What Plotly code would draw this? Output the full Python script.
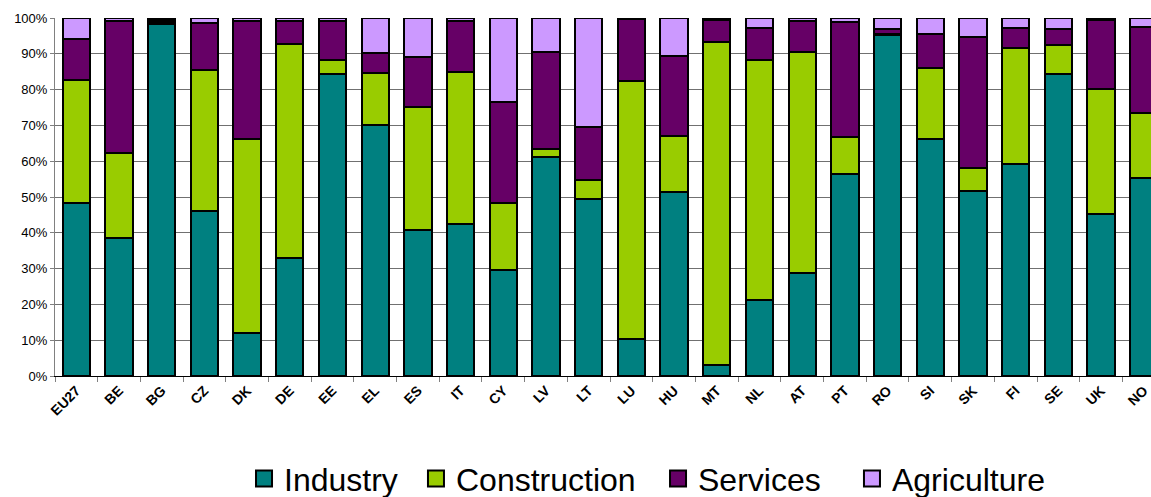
import plotly.graph_objects as go

categories = ["EU27", "BE", "BG", "CZ", "DK", "DE", "EE", "EL", "ES", "IT", "CY", "LV", "LT",
              "LU", "HU", "MT", "NL", "AT", "PT", "RO", "SI", "SK", "FI", "SE", "UK", "NO"]
industry = [48.2, 38.6, 98.3, 46.2, 12.1, 32.9, 84.4, 70.2, 40.8, 42.4, 29.6, 61.3, 49.4,
            10.3, 51.4, 3.1, 21.2, 28.7, 56.3, 95.3, 66.1, 51.8, 59.1, 84.4, 45.3, 55.4]
construction = [34.5, 23.6, 0.6, 39.3, 54.0, 59.7, 3.9, 14.5, 34.4, 42.6, 18.8, 2.1, 5.3,
                72.1, 15.6, 90.3, 67.1, 61.9, 10.6, 0.3, 20.0, 6.2, 32.6, 8.1, 34.8, 18.0]
services = [11.4, 36.9, 0.6, 13.0, 33.2, 6.5, 10.8, 5.4, 13.8, 14.3, 28.1, 27.0, 14.8,
            17.2, 22.5, 6.0, 8.8, 8.6, 32.1, 1.4, 9.4, 36.8, 5.4, 4.4, 19.3, 24.0]
agriculture = [5.9, 0.9, 0.5, 1.5, 0.7, 0.9, 0.9, 9.9, 11.0, 0.7, 23.5, 9.6, 30.5,
               0.4, 10.5, 0.6, 2.9, 0.8, 1.0, 3.0, 4.5, 5.2, 2.9, 3.1, 0.6, 2.6]

series_names = ["Industry", "Construction", "Services", "Agriculture"]
series_values = [industry, construction, services, agriculture]
series_colors = ["#008080", "#99CC00", "#660066", "#CC99FF"]
y_ticks = [0, 10, 20, 30, 40, 50, 60, 70, 80, 90, 100]
y_tick_labels = ["0%", "10%", "20%", "30%", "40%", "50%", "60%", "70%", "80%", "90%", "100%"]

FONT = "Liberation Sans, Arial, sans-serif"
legend_ids = ["legend", "legend2", "legend3", "legend4"]
legend_x = [0.2120, 0.3614, 0.5717, 0.7402]

fig = go.Figure()
for name, vals, col in zip(series_names, series_values, series_colors):
    fig.add_trace(go.Bar(
        x=categories, y=vals, name=name, showlegend=False,
        marker=dict(color=col, line=dict(color="black", width=2)),
    ))
for name, col, lid in zip(series_names, series_colors, legend_ids):
    fig.add_trace(go.Scatter(
        x=[None], y=[None], mode="markers", name=name, showlegend=True, legend=lid,
        marker=dict(symbol="square", size=16, color=col, line=dict(color="black", width=2)),
    ))

legend_common = dict(
    orientation="h", xref="container", yref="container",
    xanchor="left", y=0.037, yanchor="middle",
    font=dict(size=32, family=FONT, color="black"),
    bgcolor="rgba(0,0,0,0)",
)

fig.update_layout(
    width=1151, height=497,
    barmode="stack", bargap=0.36,
    plot_bgcolor="white", paper_bgcolor="white",
    margin=dict(l=55, r=0, t=18, b=121, autoexpand=False),
    font=dict(family=FONT, color="black"),
    showlegend=True,
    legend=dict(x=legend_x[0], **legend_common),
    legend2=dict(x=legend_x[1], **legend_common),
    legend3=dict(x=legend_x[2], **legend_common),
    legend4=dict(x=legend_x[3], **legend_common),
)
fig.update_xaxes(
    type="category", categoryorder="array", categoryarray=categories,
    range=[-0.5, 25.17],
    tickangle=-45, tickfont=dict(size=14, family=FONT, color="black", weight="bold"),
    ticks="outside", tickson="boundaries", ticklen=5, tickcolor="#808080",
    showline=True, linecolor="black", linewidth=1,
    showgrid=False, zeroline=False,
)
fig.update_yaxes(
    range=[0, 100], tickmode="array", tickvals=y_ticks, ticktext=y_tick_labels,
    tickfont=dict(size=13, family=FONT, color="black"),
    ticks="outside", ticklen=4, tickcolor="#808080",
    showline=True, linecolor="#808080", linewidth=1,
    showgrid=True, gridcolor="#707070", gridwidth=1,
    zeroline=False,
)

fig.write_html("out.html")
